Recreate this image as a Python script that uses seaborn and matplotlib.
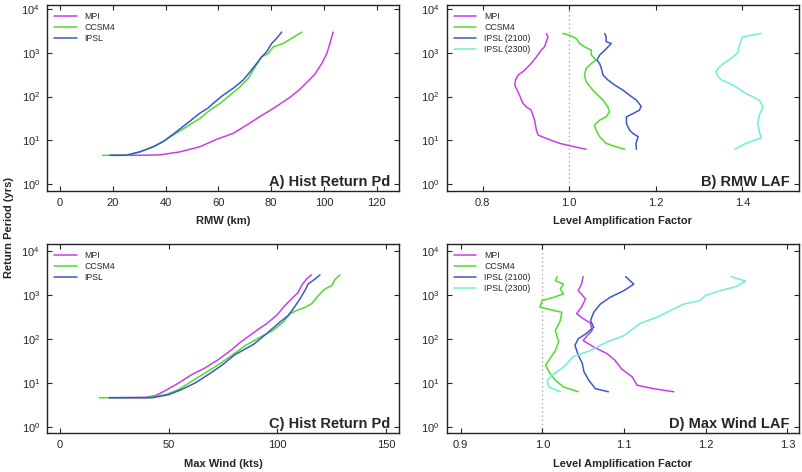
import numpy as np
import pandas as pd
import matplotlib
matplotlib.use("Agg")
import matplotlib.pyplot as plt
import seaborn as sns

# A) historical return period vs RMW (km)
a_mpi_x = [20, 30, 37.8, 45.4, 53, 59.3, 65.6, 70.7, 76, 80, 84, 87.5, 90.5, 93.5, 96.5, 99.3, 101.1, 102.3, 103.5]
a_mpi_y = [4.6, 4.6, 4.7, 5.5, 7.2, 10.6, 14.5, 22.4, 36, 50, 72, 100, 140, 210, 320, 580, 960, 1630, 2950]
a_ccsm_x = [16.1, 25, 30.2, 35.3, 39, 42.9, 47.9, 53, 56, 58, 60.6, 64.4, 68.2, 71.3, 73.9, 76.4, 78.9, 80.8, 84.6, 87.8, 91.6]
a_ccsm_y = [4.6, 4.6, 5.5, 7.2, 9.4, 13.3, 20.5, 32, 45, 55, 70, 108, 167, 260, 475, 800, 960, 1360, 1630, 2130, 2950]
a_ipsl_x = [18.8, 25, 30.2, 35.3, 39, 42.9, 47.9, 53, 56.1, 58, 61.8, 65.6, 69.4, 72, 74.5, 76.4, 78.3, 80.2, 82.1, 84]
a_ipsl_y = [4.6, 4.6, 5.5, 7.2, 9.4, 14, 24, 42, 55, 70, 108, 155, 238, 367, 570, 810, 1050, 1630, 2130, 2950]

# B) RMW level amplification factor
b_mpi_x = [1.039, 1.001, 0.978, 0.947, 0.928, 0.924, 0.920, 0.912, 0.901, 0.893, 0.885, 0.874, 0.876,
           0.882, 0.893, 0.901, 0.912, 0.924, 0.935, 0.943, 0.947, 0.951, 0.947]
b_mpi_y = [6.3, 7.6, 8.6, 11.1, 13.3, 17.3, 29, 49, 58, 70, 108, 183, 240, 310, 370, 440, 570, 800,
           1140, 1370, 1800, 2300, 2750]
b_ccsm_x = [1.128, 1.108, 1.085, 1.070, 1.062, 1.058, 1.070, 1.085, 1.093, 1.089, 1.078, 1.066, 1.051,
            1.039, 1.035, 1.039, 1.051, 1.062, 1.051, 1.051, 1.035, 1.024, 1.016, 1.001, 0.985]
b_ccsm_y = [6.3, 7.2, 8.6, 12.2, 17.3, 22.5, 29, 34.5, 45, 58, 83, 108, 154, 218, 310, 440, 570, 680,
            880, 1140, 1370, 1620, 2100, 2500, 2750]
b_ipsl1_x = [1.155, 1.154, 1.159, 1.147, 1.139, 1.132, 1.132, 1.147, 1.162, 1.166, 1.155, 1.139, 1.124,
             1.105, 1.089, 1.078, 1.074, 1.070, 1.064, 1.070, 1.082, 1.097, 1.085, 1.085, 1.082]
b_ipsl1_y = [6.3, 8.6, 12.2, 14.5, 17.3, 24.5, 34.5, 41, 49, 60, 83, 108, 140, 183, 240, 310, 440, 570,
             680, 880, 1140, 1620, 1800, 2300, 2750]
b_ipsl2_x = [1.382, 1.408, 1.443, 1.439, 1.435, 1.439, 1.447, 1.439, 1.408, 1.378, 1.351, 1.343, 1.339,
             1.347, 1.362, 1.378, 1.389, 1.393, 1.397, 1.400, 1.443]
b_ipsl2_y = [6.3, 8.6, 11.5, 15.8, 24.5, 38, 58, 83, 118, 183, 240, 290, 370, 480, 620, 800, 1000, 1500,
             1940, 2300, 2750]

# C) historical return period vs max wind (kts)
c_mpi_x = [22.6, 39.4, 43.9, 48.5, 54.6, 60.6, 66.7, 72.8, 78.9, 83, 87.3, 91, 95, 99.6, 103.5, 106.5,
           109.6, 111.1, 113.4, 115.7]
c_mpi_y = [4.6, 4.7, 5.15, 6.7, 10, 15.5, 22, 34, 57, 85, 121, 165, 224, 347, 585, 830, 1170, 1660, 2350, 2920]
c_ccsm_x = [18.1, 40, 48.5, 54.6, 60.6, 66.7, 72.8, 78.9, 85, 91.9, 98.1, 102.7, 105.8, 108.8, 112.7,
            115.7, 118.8, 121.9, 125, 126.5, 128.8]
c_ccsm_y = [4.6, 4.6, 5.4, 7.1, 10.9, 16.9, 26, 42, 70, 110, 160, 245, 380, 450, 530, 640, 980, 1400,
            1660, 2300, 2920]
c_ipsl_x = [22.6, 42.4, 50, 56, 62.2, 68.2, 74.3, 80.4, 88.9, 95, 101.2, 105, 107.3, 110.4, 112.7, 114.2,
            117.3, 119.6]
c_ipsl_y = [4.6, 4.6, 5.4, 7.1, 10, 15.5, 25, 44, 75, 133, 245, 347, 490, 830, 1290, 1820, 2350, 2920]

# D) max wind level amplification factor
d_mpi_x = [1.161, 1.136, 1.116, 1.110, 1.097, 1.089, 1.079, 1.063, 1.050, 1.055, 1.061, 1.059, 1.050,
           1.042, 1.048, 1.053, 1.044, 1.048, 1.050]
d_mpi_y = [6.3, 7.4, 8.9, 13.8, 21, 33, 47, 66, 93, 120, 157, 230, 295, 380, 540, 830, 1280, 1800, 2660]
d_ccsm_x = [1.044, 1.026, 1.016, 1.010, 1.004, 1.008, 1.016, 1.020, 1.016, 1.022, 1.024, 1.010, 0.997,
            1.000, 1.014, 1.026, 1.022, 1.026, 1.016, 1.018]
d_ccsm_y = [6.3, 8.1, 11.5, 16, 25, 33, 55, 86, 157, 265, 410, 470, 540, 760, 900, 1080, 1400, 1800, 2150, 2660]
d_ipsl1_x = [1.081, 1.065, 1.057, 1.051, 1.049, 1.044, 1.040, 1.044, 1.053, 1.063, 1.059, 1.063, 1.071,
             1.083, 1.100, 1.112, 1.102]
d_ipsl1_y = [6.3, 7.4, 11.5, 18, 28, 43, 72, 102, 131, 186, 265, 410, 630, 900, 1280, 1800, 2660]
d_ipsl2_x = [1.022, 1.008, 1.006, 1.014, 1.026, 1.038, 1.059, 1.079, 1.100, 1.120, 1.141, 1.161, 1.173,
             1.193, 1.200, 1.221, 1.237, 1.249, 1.237, 1.231]
d_ipsl2_y = [6.3, 8.1, 11.5, 16, 23, 40, 55, 86, 120, 230, 320, 490, 630, 760, 1000, 1320, 1580, 2100,
             2450, 2700]

colors = {"MPI": "#c640e6", "CCSM4": "#4fdc2c", "IPSL": "#3a58cc",
          "IPSL (2100)": "#3a58cc", "IPSL (2300)": "#6cf0d8"}


def make_df(series):
    parts = []
    for name, xs, ys in series:
        parts.append(pd.DataFrame({"x": xs, "y": ys, "model": name}))
    return pd.concat(parts, ignore_index=True)


sns.set_style("ticks")
plt.rcParams["font.family"] = ["Liberation Sans", "DejaVu Sans"]
plt.rcParams["xtick.direction"] = "in"
plt.rcParams["ytick.direction"] = "in"

fig = plt.figure(figsize=(8.02, 4.72), dpi=100)
ax_a = fig.add_axes([0.0586, 0.595, 0.439, 0.394])
ax_b = fig.add_axes([0.557, 0.595, 0.439, 0.394])
ax_c = fig.add_axes([0.0586, 0.082, 0.439, 0.401])
ax_d = fig.add_axes([0.557, 0.082, 0.439, 0.401])

panels = [
    (ax_a, [("MPI", a_mpi_x, a_mpi_y), ("CCSM4", a_ccsm_x, a_ccsm_y), ("IPSL", a_ipsl_x, a_ipsl_y)],
     "RMW (km)", "A) Hist Return Pd", (-5, 128.5), [0, 20, 40, 60, 80, 100, 120], None),
    (ax_b, [("MPI", b_mpi_x, b_mpi_y), ("CCSM4", b_ccsm_x, b_ccsm_y),
            ("IPSL (2100)", b_ipsl1_x, b_ipsl1_y), ("IPSL (2300)", b_ipsl2_x, b_ipsl2_y)],
     "Level Amplification Factor", "B) RMW LAF", (0.717, 1.53), [0.8, 1.0, 1.2, 1.4], "%.1f"),
    (ax_c, [("MPI", c_mpi_x, c_mpi_y), ("CCSM4", c_ccsm_x, c_ccsm_y), ("IPSL", c_ipsl_x, c_ipsl_y)],
     "Max Wind (kts)", "C) Hist Return Pd", (-6, 156), [0, 50, 100, 150], None),
    (ax_d, [("MPI", d_mpi_x, d_mpi_y), ("CCSM4", d_ccsm_x, d_ccsm_y),
            ("IPSL (2100)", d_ipsl1_x, d_ipsl1_y), ("IPSL (2300)", d_ipsl2_x, d_ipsl2_y)],
     "Level Amplification Factor", "D) Max Wind LAF", (0.883, 1.314), [0.9, 1.0, 1.1, 1.2, 1.3], "%.1f"),
]

for ax, series, xlabel, title, xlim, xticks, fmt in panels:
    df = make_df(series)
    names = [s[0] for s in series]
    if fmt is not None:
        ax.axvline(1.0, color="#aaaaaa", lw=1, ls=(0, (1, 2)), zorder=0)
    sns.lineplot(data=df, x="x", y="y", hue="model", hue_order=names,
                 palette={n: colors[n] for n in names}, sort=False, estimator=None,
                 linewidth=1.1, ax=ax)
    ax.set_yscale("log")
    if ax in (ax_a, ax_b):
        ax.set_ylim(0.7, 12100)
    else:
        ax.set_ylim(0.71, 14800)
    ax.set_yticks([1, 10, 100, 1000, 10000])
    ax.minorticks_off()
    ax.set_xlim(*xlim)
    ax.set_xticks(xticks)
    if fmt is not None:
        ax.set_xticklabels([fmt % t for t in xticks])
    ax.tick_params(axis="both", which="major", labelsize=8, length=3.5, width=0.8,
                   top=True, right=True, pad=5)
    for sp in ax.spines.values():
        sp.set_linewidth(1.0)
        sp.set_color("#222222")
    ax.set_xlabel(xlabel, fontsize=8, fontweight="bold", labelpad=6)
    ax.set_ylabel("")
    ax.text(0.975, 0.03, title, transform=ax.transAxes, ha="right", va="baseline",
            fontsize=10.5, fontweight="bold")
    ax.legend(loc="upper left", frameon=False, fontsize=6.3, handlelength=2.6,
              labelspacing=0.22, borderaxespad=0.4, handletextpad=0.9)

fig.text(0.011, 0.517, "Return Period (yrs)", rotation=90, ha="center", va="center",
         fontsize=8, fontweight="bold")

fig.savefig("out.png", dpi=100)
